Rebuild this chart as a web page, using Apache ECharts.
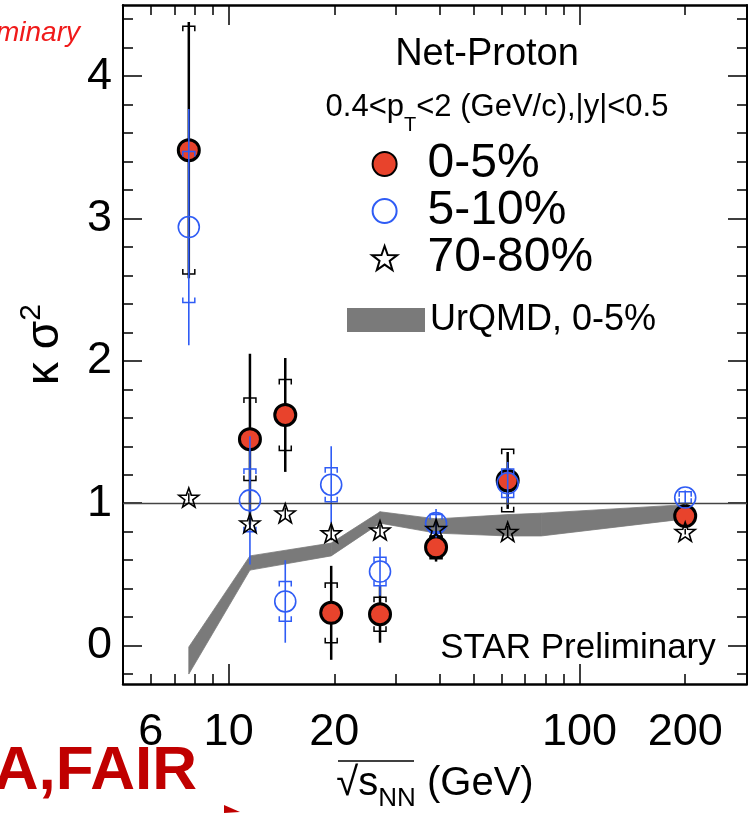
<!DOCTYPE html>
<html>
<head>
<meta charset="utf-8">
<script src="https://cdn.jsdelivr.net/npm/echarts@6/dist/echarts.min.js"></script>
<style>
  html, body { margin: 0; padding: 0; background: #fff; }
  #chart { width: 748px; height: 813px; }
</style>
</head>
<body>
<div id="chart"></div>
<script>
// collision energies (GeV)
const energies = [7.7, 11.5, 14.5, 19.6, 27, 39, 62.4, 200];

// 0-5% central
const central = [3.48, 1.45, 1.62, 0.23, 0.22, 0.69, 1.16, 0.91];
const centralStat = [0.90, 0.60, 0.40, 0.33, 0.20, 0.10, 0.20, 0.05];
const centralSys = [0.87, 0.29, 0.25, 0.21, 0.12, 0.08, 0.22, 0.04];

// 5-10%
const mid = [2.94, 1.02, 0.31, 1.13, 0.52, 0.86, 1.14, 1.04];
const midStat = [0.83, 0.45, 0.29, 0.27, 0.17, 0.10, 0.15, 0.05];
const midSys = [0.53, 0.22, 0.14, 0.12, 0.10, 0.06, 0.10, 0.04];

// 70-80%
const peripheral = [1.04, 0.86, 0.93, 0.79, 0.81, 0.82, 0.80, 0.80];
const peripheralStat = [0.03, 0.04, 0.04, 0.05, 0.04, 0.05, 0.04, 0.02];

// UrQMD 0-5% band
const urqmdX = [7.7, 11.5, 19.6, 27, 39, 62.4, 77.7, 200];
const urqmdLo = [-0.20, 0.53, 0.63, 0.86, 0.79, 0.77, 0.77, 0.89];
const urqmdHi = [-0.01, 0.63, 0.72, 0.94, 0.89, 0.92, 0.93, 0.99];

// axis ticks / labels
const xLabels = [6, 10, 20, 100, 200];
const xMajorTicks = [10, 100];
const xMinorTicks = [6, 7, 8, 9, 20, 30, 40, 50, 60, 70, 80, 90, 200, 300];
const yLabels = [0, 1, 2, 3, 4];
const yMinorTicks = [-0.2, 0.2, 0.4, 0.6, 0.8, 1.2, 1.4, 1.6, 1.8, 2.2, 2.4, 2.6, 2.8,
  3.2, 3.4, 3.6, 3.8, 4.2, 4.4];

const FONT = 'Liberation Sans, Arial, Helvetica, sans-serif';
const STAR = 'path://M50 0L61.76 33.82L97.55 34.55L69.02 56.18L79.39 90.45L50 70L20.61 90.45L30.98 56.18L2.45 34.55L38.24 33.82Z';

function errRows(vals, stat, sys) {
  return energies.map((x, i) => [x, vals[i], vals[i] - stat[i], vals[i] + stat[i],
    sys ? vals[i] - sys[i] : vals[i], sys ? vals[i] + sys[i] : vals[i]]);
}

function errorBars(color, width, caps) {
  return function (params, api) {
    const x = api.value(0);
    const lo = api.coord([x, api.value(2)]);
    const hi = api.coord([x, api.value(3)]);
    const children = [{
      type: 'line',
      shape: { x1: lo[0], y1: lo[1], x2: hi[0], y2: hi[1] },
      style: { stroke: color, lineWidth: width }
    }];
    if (caps) {
      const sLo = api.coord([x, api.value(4)]);
      const sHi = api.coord([x, api.value(5)]);
      const w = 6, h = 5;
      children.push({
        type: 'polyline',
        shape: { points: [[sHi[0] - w, sHi[1] + h], [sHi[0] - w, sHi[1]], [sHi[0] + w, sHi[1]], [sHi[0] + w, sHi[1] + h]] },
        style: { stroke: color, fill: null, lineWidth: 1.5 }
      }, {
        type: 'polyline',
        shape: { points: [[sLo[0] - w, sLo[1] - h], [sLo[0] - w, sLo[1]], [sLo[0] + w, sLo[1]], [sLo[0] + w, sLo[1] - h]] },
        style: { stroke: color, fill: null, lineWidth: 1.5 }
      });
    }
    return { type: 'group', children };
  };
}

function bandItem(params, api) {
  const i = params.dataIndex;
  if (i >= urqmdX.length - 1) return null;
  const pts = [
    api.coord([urqmdX[i], urqmdLo[i]]),
    api.coord([urqmdX[i + 1], urqmdLo[i + 1]]),
    api.coord([urqmdX[i + 1], urqmdHi[i + 1]]),
    api.coord([urqmdX[i], urqmdHi[i]])
  ];
  return {
    type: 'polygon',
    shape: { points: pts },
    style: { fill: '#7a7a7a', stroke: '#7a7a7a', lineWidth: 0.8 }
  };
}

function xAxisDef(grid, position, ticks, len, major) {
  return {
    type: 'log', logBase: 10, min: 5, max: 300, gridIndex: grid, position,
    axisLine: { show: major, onZero: false, lineStyle: { color: '#000', width: 2.5 } },
    axisTick: { show: true, inside: true, length: len, customValues: ticks, lineStyle: { color: '#000', width: 1.5 } },
    axisLabel: (major && position === 'bottom') ? {
      customValues: xLabels, fontSize: 45, fontFamily: FONT, color: '#000', margin: 26,
      formatter: v => String(Math.round(v))
    } : { show: false },
    splitLine: { show: false },
    minorTick: { show: false },
    name: (major && position === 'bottom') ? '√{s|s}{sub|NN} (GeV)' : '',
    nameLocation: 'middle',
    nameGap: 72,
    nameMoveOverlap: false,
    nameTextStyle: {
      fontSize: 40, fontFamily: FONT, color: '#000', lineHeight: 56,
      rich: {
        s: { fontSize: 40, fontFamily: FONT, color: '#000', lineHeight: 56 },
        sub: { fontSize: 26, fontFamily: FONT, color: '#000', verticalAlign: 'bottom', lineHeight: 56 }
      }
    }
  };
}

function yAxisDef(grid, position, ticks, len, major) {
  return {
    type: 'value', min: -0.27, max: 4.5, gridIndex: grid, position,
    axisLine: { show: major, onZero: false, lineStyle: { color: '#000', width: 2 } },
    axisTick: { show: true, inside: true, length: len, customValues: ticks, lineStyle: { color: '#000', width: 1.5 } },
    axisLabel: (major && position === 'left') ? {
      customValues: yLabels, fontSize: 45, fontFamily: FONT, color: '#000', margin: 11
    } : { show: false },
    splitLine: { show: false },
    name: (major && position === 'left') ? 'κ σ{sup|2}' : '',
    nameLocation: 'middle',
    nameGap: 50,
    nameRotate: 90,
    nameMoveOverlap: false,
    nameTextStyle: {
      fontSize: 46, fontFamily: FONT, color: '#000', lineHeight: 56,
      rich: {
        sup: { fontSize: 30, fontFamily: FONT, color: '#000', verticalAlign: 'top', lineHeight: 56 }
      }
    }
  };
}

const gridBox = { left: 123, right: 1, top: 5, bottom: 129, outerBoundsMode: 'none', containLabel: false };

const option = {
  backgroundColor: '#fff',
  animation: false,
  grid: [Object.assign({}, gridBox), Object.assign({}, gridBox)],
  xAxis: [
    xAxisDef(0, 'bottom', xMajorTicks, 20, true),
    xAxisDef(0, 'top', xMajorTicks, 20, true),
    xAxisDef(1, 'bottom', xMinorTicks, 10, false),
    xAxisDef(1, 'top', xMinorTicks, 10, false)
  ],
  yAxis: [
    yAxisDef(0, 'left', yLabels, 19, true),
    yAxisDef(0, 'right', yLabels, 19, true),
    yAxisDef(1, 'left', yMinorTicks, 10, false),
    yAxisDef(1, 'right', yMinorTicks, 10, false)
  ],
  legend: [{
    orient: 'vertical', left: 366, top: 135, itemGap: -1,
    itemWidth: 76, itemHeight: 24, selectedMode: false,
    textStyle: { fontSize: 48, fontFamily: FONT, color: '#000' },
    data: ['0-5%', '5-10%', '70-80%']
  }, {
    orient: 'vertical', left: 342, top: 297, itemWidth: 78, itemHeight: 24, selectedMode: false,
    textStyle: { fontSize: 36, fontFamily: FONT, color: '#000' },
    data: [{ name: 'UrQMD, 0-5%', icon: 'rect' }]
  }],
  graphic: [
    { type: 'text', x: 487, y: 55, style: { text: 'Net-Proton', fontSize: 38, fontFamily: FONT, fill: '#000', align: 'center', verticalAlign: 'middle' } },
    { type: 'text', x: 497, y: 107, style: {
      text: '0.4<p{sub|T}<2 (GeV/c),|y|<0.5', fontSize: 31, fontFamily: FONT, fill: '#000',
      align: 'center', verticalAlign: 'middle', lineHeight: 56,
      rich: { sub: { fontSize: 20, fontFamily: FONT, fill: '#000', verticalAlign: 'bottom', lineHeight: 56 } }
    } },
    { type: 'text', x: 578, y: 648, style: { text: 'STAR Preliminary', fontSize: 35, fontFamily: FONT, fill: '#000', align: 'center', verticalAlign: 'middle' } },
    { type: 'text', x: 80, y: 33, style: { text: 'Preliminary', fontSize: 28, fontStyle: 'italic', fontFamily: FONT, fill: '#f01a1a', align: 'right', verticalAlign: 'middle' } },
    { type: 'text', x: 197, y: 772, style: { text: 'A,FAIR', fontSize: 62, fontWeight: 'bold', fontFamily: FONT, fill: '#c00000', align: 'right', verticalAlign: 'middle' } },
    { type: 'polygon', shape: { points: [[224, 805], [240, 812], [224, 813]] }, style: { fill: '#c00000' } },
    { type: 'line', shape: { x1: 338, y1: 761, x2: 414, y2: 761 }, style: { stroke: '#000', lineWidth: 1.5 } }
  ],
  series: [
    {
      name: 'UrQMD, 0-5%', type: 'custom', xAxisIndex: 0, yAxisIndex: 0,
      itemStyle: { color: '#7a7a7a' },
      encode: { x: 0, y: [1, 2] },
      data: urqmdX.map((x, i) => [x, urqmdLo[i], urqmdHi[i]]),
      renderItem: bandItem, z: 1
    },
    {
      name: 'err0', type: 'custom', renderItem: errorBars('#000', 2.5, true),
      encode: { x: 0, y: [2, 3, 4, 5] }, data: errRows(central, centralStat, centralSys), z: 2
    },
    {
      name: '0-5%', type: 'scatter', symbol: 'circle', symbolSize: 21,
      itemStyle: { color: '#e8432c', borderColor: '#000', borderWidth: 3, opacity: 1 },
      data: energies.map((x, i) => [x, central[i]]), z: 3,
      markLine: {
        silent: true, symbol: 'none', label: { show: false },
        lineStyle: { color: '#444', width: 1.3, type: 'solid' },
        data: [{ yAxis: 1 }]
      }
    },
    {
      name: 'err1', type: 'custom', renderItem: errorBars('#2f5cf5', 1.6, true),
      encode: { x: 0, y: [2, 3, 4, 5] }, data: errRows(mid, midStat, midSys), z: 4
    },
    {
      name: '5-10%', type: 'scatter', symbol: 'circle', symbolSize: 21,
      itemStyle: { color: 'rgba(255,255,255,0)', borderColor: '#2f5cf5', borderWidth: 1.6, opacity: 1 },
      data: energies.map((x, i) => [x, mid[i]]), z: 5
    },
    {
      name: 'err2', type: 'custom', renderItem: errorBars('#000', 1.5, false),
      encode: { x: 0, y: [2, 3] }, data: errRows(peripheral, peripheralStat, null), z: 6
    },
    {
      name: '70-80%', type: 'scatter', symbol: STAR, symbolSize: 20, symbolKeepAspect: true,
      itemStyle: { color: 'rgba(255,255,255,0)', borderColor: '#000', borderWidth: 1.6, opacity: 1 },
      data: energies.map((x, i) => [x, peripheral[i]]), z: 7
    }
  ]
};

const chart = echarts.init(document.getElementById('chart'));
chart.setOption(option);
</script>
</body>
</html>
